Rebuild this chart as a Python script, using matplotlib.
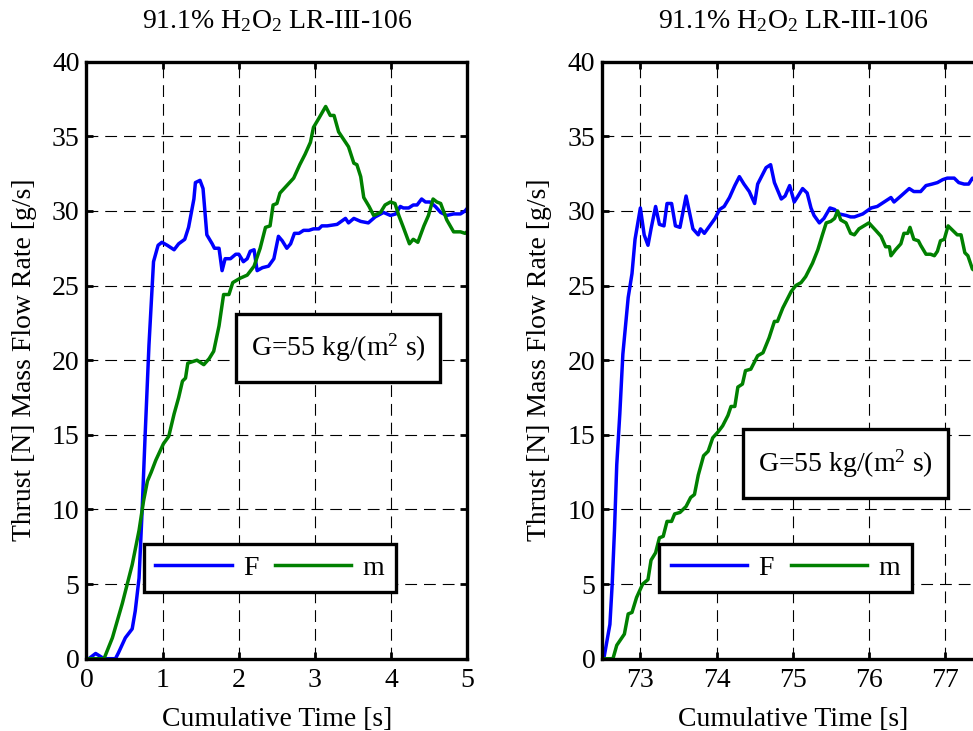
import matplotlib
matplotlib.use("Agg")
import matplotlib.pyplot as plt
from matplotlib.patches import Rectangle

plt.rcParams['font.family'] = ['Liberation Serif', 'DejaVu Serif']
plt.rcParams['mathtext.fontset'] = 'custom'
plt.rcParams['mathtext.rm'] = 'Liberation Serif'
plt.rcParams['mathtext.it'] = 'Liberation Serif:italic'
plt.rcParams['lines.scale_dashes'] = False

# ---- run 1: start of firing (t = 0 .. 5 s) ----
t_run1_F = [0.03, 0.12, 0.23, 0.38, 0.42, 0.51, 0.60, 0.64, 0.69, 0.73,
            0.77, 0.82, 0.88, 0.94, 0.99, 1.06, 1.15, 1.21, 1.29, 1.34,
            1.41, 1.43, 1.49, 1.53, 1.58, 1.65, 1.68, 1.74, 1.78, 1.82,
            1.89, 1.96, 2.00, 2.06, 2.11, 2.15, 2.20, 2.24, 2.31, 2.39,
            2.46, 2.52, 2.57, 2.63, 2.68, 2.73, 2.79, 2.85, 2.92, 2.98,
            3.05, 3.09, 3.16, 3.29, 3.40, 3.44, 3.51, 3.60, 3.70, 3.79,
            3.90, 3.99, 4.06, 4.12, 4.16, 4.23, 4.29, 4.34, 4.40, 4.45,
            4.51, 4.58, 4.65, 4.73, 4.82, 4.91, 4.97, 5.02]
F_run1 = [0, 0.35, 0, 0, 0.4, 1.4, 2.0, 3.2, 5.4, 9.9,
          15.0, 21.0, 26.6, 27.7, 27.9, 27.7, 27.4, 27.8, 28.1, 28.9,
          30.8, 31.9, 32.05, 31.5, 28.4, 27.8, 27.5, 27.5, 26.0, 26.8,
          26.8, 27.1, 27.1, 26.6, 26.8, 27.3, 27.4, 26.0, 26.2, 26.3,
          26.8, 28.3, 28.0, 27.5, 27.8, 28.5, 28.5, 28.7, 28.7, 28.8,
          28.8, 29.0, 29.0, 29.1, 29.5, 29.2, 29.5, 29.3, 29.2, 29.6,
          29.9, 29.7, 29.8, 30.3, 30.2, 30.2, 30.4, 30.4, 30.8, 30.6,
          30.6, 30.3, 29.9, 29.7, 29.8, 29.8, 30.0, 30.3]

t_run1_m = [0.03, 0.23, 0.34, 0.47, 0.60, 0.69, 0.75, 0.80, 0.85, 0.91,
            1.01, 1.08, 1.15, 1.21, 1.26, 1.30, 1.33, 1.45, 1.54, 1.61,
            1.67, 1.74, 1.80, 1.87, 1.92, 2.02, 2.11, 2.20, 2.28, 2.35,
            2.41, 2.45, 2.50, 2.54, 2.63, 2.72, 2.80, 2.87, 2.94, 2.98,
            3.05, 3.14, 3.20, 3.25, 3.31, 3.44, 3.51, 3.55, 3.60, 3.64,
            3.71, 3.77, 3.86, 3.92, 3.99, 4.05, 4.10, 4.16, 4.24, 4.29,
            4.35, 4.43, 4.49, 4.55, 4.60, 4.65, 4.73, 4.82, 4.91, 4.97, 5.02]
m_run1 = [0, 0, 1.4, 3.7, 6.3, 8.6, 10.6, 11.9, 12.5, 13.3,
          14.4, 14.9, 16.4, 17.5, 18.6, 18.8, 19.8, 20.0, 19.7, 20.1,
          20.6, 22.3, 24.4, 24.4, 25.2, 25.5, 25.7, 26.3, 27.5, 28.9,
          29.0, 30.4, 30.5, 31.2, 31.7, 32.2, 33.1, 33.8, 34.6, 35.6,
          36.2, 37.0, 36.4, 36.4, 35.3, 34.3, 33.2, 33.1, 32.3, 30.9,
          30.3, 29.7, 29.9, 30.4, 30.6, 30.5, 29.7, 28.9, 27.8, 28.1,
          27.9, 29.0, 29.7, 30.8, 30.6, 30.5, 29.4, 28.6, 28.6, 28.5, 28.7]

# ---- run 2: later firing (t = 72.5 .. 77.5 s) ----
t_run2_F = [72.52, 72.60, 72.63, 72.66, 72.69, 72.73, 72.77, 72.84, 72.89, 72.93,
            73.00, 73.05, 73.10, 73.14, 73.20, 73.25, 73.31, 73.35, 73.41, 73.46,
            73.52, 73.60, 73.69, 73.76, 73.79, 73.84, 73.91, 73.98, 74.04, 74.10,
            74.17, 74.24, 74.30, 74.36, 74.43, 74.50, 74.54, 74.61, 74.65, 74.71,
            74.76, 74.85, 74.90, 74.96, 75.02, 75.07, 75.13, 75.19, 75.24, 75.28,
            75.35, 75.41, 75.49, 75.55, 75.61, 75.70, 75.76, 75.81, 75.92, 76.03,
            76.11, 76.20, 76.29, 76.33, 76.42, 76.53, 76.59, 76.68, 76.75, 76.83,
            76.90, 76.97, 77.03, 77.12, 77.18, 77.25, 77.31, 77.36, 77.45, 77.55]
F_run2 = [0, 2.3, 5.0, 8.6, 13.0, 16.4, 20.4, 24.2, 25.8, 28.1,
          30.2, 28.4, 27.7, 28.8, 30.3, 29.1, 29.0, 30.5, 30.5, 29.0,
          28.9, 31.0, 28.8, 28.4, 28.8, 28.5, 29.0, 29.5, 30.1, 30.3,
          30.9, 31.7, 32.3, 31.8, 31.3, 30.5, 31.8, 32.5, 32.9, 33.1,
          31.9, 30.8, 31.0, 31.7, 30.6, 31.0, 31.5, 31.2, 30.2, 29.7,
          29.2, 29.5, 30.2, 30.1, 29.8, 29.7, 29.6, 29.6, 29.8, 30.2,
          30.3, 30.6, 30.9, 30.6, 31.0, 31.5, 31.3, 31.3, 31.7, 31.8,
          31.9, 32.1, 32.2, 32.2, 31.9, 31.8, 31.8, 32.2, 32.0, 32.0]

t_run2_m = [72.52, 72.64, 72.69, 72.79, 72.84, 72.89, 72.95, 73.03, 73.10, 73.14,
            73.20, 73.25, 73.30, 73.35, 73.41, 73.45, 73.52, 73.60, 73.66, 73.71,
            73.76, 73.83, 73.89, 73.95, 74.02, 74.08, 74.15, 74.19, 74.24, 74.28,
            74.34, 74.38, 74.45, 74.54, 74.61, 74.69, 74.76, 74.80, 74.87, 74.93,
            74.98, 75.04, 75.11, 75.17, 75.26, 75.33, 75.39, 75.44, 75.50, 75.55,
            75.59, 75.63, 75.70, 75.76, 75.81, 75.87, 76.00, 76.09, 76.16, 76.22,
            76.27, 76.29, 76.35, 76.42, 76.46, 76.51, 76.54, 76.59, 76.65, 76.68,
            76.75, 76.81, 76.86, 76.90, 76.94, 76.99, 77.04, 77.10, 77.16, 77.21,
            77.26, 77.30, 77.36, 77.45, 77.55]
m_run2 = [0, 0, 0.9, 1.65, 3.0, 3.1, 4.1, 5.0, 5.3, 6.6,
          7.1, 8.1, 8.2, 9.2, 9.2, 9.7, 9.8, 10.2, 10.8, 11.0,
          12.3, 13.6, 13.9, 14.8, 15.2, 15.6, 16.3, 16.9, 16.9, 18.2,
          18.4, 19.3, 19.4, 20.3, 20.5, 21.5, 22.6, 22.6, 23.5, 24.1,
          24.6, 25.0, 25.2, 25.6, 26.5, 27.4, 28.4, 29.2, 29.3, 29.5,
          30.0, 29.4, 29.2, 28.5, 28.4, 28.8, 29.2, 28.7, 28.3, 27.6,
          27.6, 27.0, 27.4, 27.8, 28.5, 28.5, 28.9, 28.1, 28.0, 27.7,
          27.1, 27.1, 27.0, 27.3, 28.0, 28.1, 29.0, 28.7, 28.4, 28.4,
          27.2, 27.0, 26.1, 25.8, 25.6]

title = '91.1% H$_2$O$_2$ LR-III-106'
ylabel = 'Thrust [N] Mass Flow Rate [g/s]'
xlabel = 'Cumulative Time [s]'
note = 'G=55 kg/(m$^2$ s)'
series_labels = ['F', 'm']

FS = 20

fig = plt.figure(figsize=(9.73, 7.31), dpi=100)
ax1 = fig.add_axes([0.0889, 0.0989, 0.3914, 0.8167])
ax2 = fig.add_axes([0.6190, 0.0989, 0.3914, 0.8167])


def style_axes(ax, xlim, xticks, box_xy):
    ax.set_xlim(*xlim)
    ax.set_ylim(0, 40)
    ax.set_xticks(xticks)
    ax.set_yticks(range(0, 41, 5))
    ax.tick_params(direction='in', top=True, right=True, length=5, width=2,
                   labelsize=FS)
    ax.tick_params(axis='x', pad=7)
    ax.tick_params(axis='y', pad=5)
    for sp in ax.spines.values():
        sp.set_linewidth(2.4)
    ax.grid(True, color='k', linewidth=0.8, linestyle=(0, (8.5, 5)))
    ax.set_axisbelow(True)
    ax.set_title(title, fontsize=FS, pad=24)
    ax.set_ylabel(ylabel, fontsize=FS, labelpad=11)
    ax.set_xlabel(xlabel, fontsize=FS, labelpad=10)
    # annotation box with the mass flux
    x0, y0, w, h = box_xy
    ax.add_patch(Rectangle((x0, y0), w, h, transform=ax.transAxes,
                           facecolor='white', edgecolor='k', linewidth=2.4,
                           zorder=5))
    ax.text(x0 + w / 2, y0 + h / 2, note, transform=ax.transAxes,
            ha='center', va='center', fontsize=FS, zorder=6)
    leg = ax.legend(loc='center', bbox_to_anchor=(0.481, 0.152), ncol=2,
                    fontsize=FS, handlelength=2.75, handletextpad=0.4,
                    columnspacing=0.6, borderpad=0.42, fancybox=False,
                    framealpha=1, edgecolor='k')
    leg.get_frame().set_linewidth(2.4)
    leg.set_zorder(7)


ax1.plot(t_run1_F, F_run1, color='#0000ff', linewidth=2.5, label=series_labels[0])
ax1.plot(t_run1_m, m_run1, color='#008000', linewidth=2.5, label=series_labels[1])
style_axes(ax1, (0, 5), range(0, 6), (0.393, 0.463, 0.536, 0.115))

ax2.plot(t_run2_F, F_run2, color='#0000ff', linewidth=2.5, label=series_labels[0])
ax2.plot(t_run2_m, m_run2, color='#008000', linewidth=2.5, label=series_labels[1])
style_axes(ax2, (72.5, 77.5), range(73, 78), (0.370, 0.270, 0.537, 0.114))

fig.savefig('out.png', dpi=100)
